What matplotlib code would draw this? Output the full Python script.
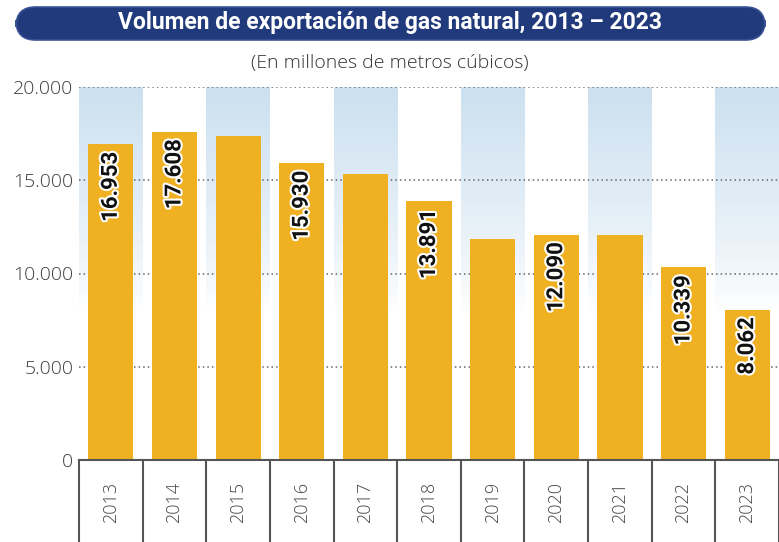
import matplotlib.pyplot as plt
import numpy as np
from matplotlib.patches import FancyBboxPatch
import matplotlib.patheffects as pe

years = ['2013', '2014', '2015', '2016', '2017', '2018', '2019', '2020', '2021', '2022', '2023']
volumes = [16953, 17608, 17350, 15930, 15350, 13891, 11850, 12090, 12080, 10339, 8062]
shown = ['16.953', '17.608', None, '15.930', None, '13.891', None, '12.090', None, '10.339', '8.062']
yticks = [0, 5000, 10000, 15000, 20000]
ytick_labels = ['0', '5.000', '10.000', '15.000', '20.000']

fig = plt.figure(figsize=(7.79, 5.42), dpi=100)
ax = fig.add_axes([79 / 779, 1 - 460 / 542, 1 - 79 / 779, (460 - 87) / 542])

x = np.arange(len(years))
ax.set_xlim(-0.5, len(years) - 0.5)
ax.set_ylim(0, 20000)

# alternating blue gradient bands
grad = np.linspace(1, 0, 200).reshape(-1, 1)
top = np.array([0.80, 0.88, 0.94])
white = np.array([1.0, 1.0, 1.0])
fade = np.clip((grad - 0.4) / 0.6, 0, 1) ** 0.8
img = white + (top - white) * fade[..., None]
for i in x[::2]:
    ax.imshow(img, extent=(i - 0.5, i + 0.5, 0, 20000), aspect='auto', zorder=0)

for yv in yticks[1:]:
    ax.axhline(yv, color='#666666', lw=1.1, ls=(0, (1, 2)), zorder=1)

ax.bar(x, volumes, width=0.71, color='#efb022', zorder=2)

for i, (v, s) in enumerate(zip(volumes, shown)):
    if s:
        ax.text(i, v - 420, s, rotation=90, ha='center', va='top', fontsize=16,
                fontweight='bold', color='#111111', zorder=3, family='Roboto',
                path_effects=[pe.withStroke(linewidth=3, foreground='white')])

for sp in ['left', 'right', 'top']:
    ax.spines[sp].set_visible(False)
ax.spines['bottom'].set_color('#555555')
ax.spines['bottom'].set_linewidth(1.5)
ax.spines['bottom'].set_zorder(4)

ax.set_yticks(yticks)
ax.set_yticklabels(ytick_labels, fontsize=14, color='#3c3c3c', family='Open Sans',
                   fontweight='light')
ax.tick_params(axis='y', length=0, pad=4)
ax.set_xticks(x)
ax.set_xticklabels(years, rotation=90, fontsize=13, color='#444444', family='Open Sans',
                   fontweight='light')
ax.tick_params(axis='x', length=0, pad=16)

# separators of the year boxes
for b in np.arange(-0.5, len(years), 1.0):
    ax.plot([b, b], [0, -4400], color='#555555', lw=1.5, clip_on=False, zorder=4)

# title box
box = FancyBboxPatch((16 / 779, 1 - 40 / 542), (765 - 16) / 779, 33 / 542,
                     boxstyle='round,pad=0,rounding_size=0.025',
                     transform=fig.transFigure, facecolor='#213a7c',
                     edgecolor='#3a5296', lw=1.2, mutation_aspect=779 / 542)
fig.patches.append(box)
fig.text(0.5, 1 - 23 / 542, 'Volumen de exportación de gas natural, 2013 – 2023',
         ha='center', va='center', color='white', fontsize=16.5, fontweight='bold',
         family='Roboto')
fig.text(0.5, 1 - 63 / 542, '(En millones de metros cúbicos)', ha='center', va='center',
         color='#333333', fontsize=14, family='Open Sans', fontweight='light')

fig.savefig('out.png', dpi=100)
